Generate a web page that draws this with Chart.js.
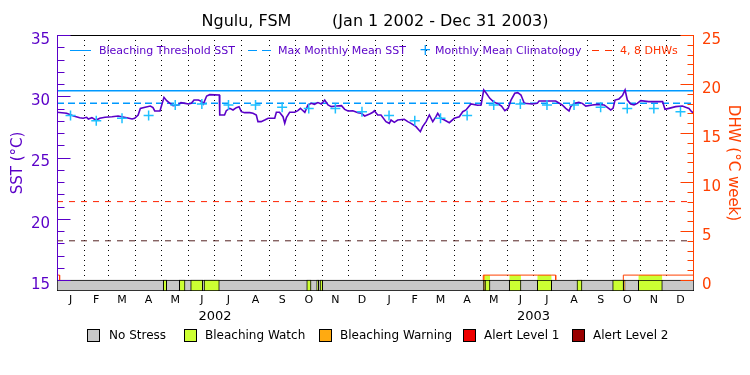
<!DOCTYPE html>
<html>
<head>
<meta charset="utf-8">
<script src="https://cdn.jsdelivr.net/npm/chart.js@4.4.0/dist/chart.umd.min.js"></script>
<style>
  html, body { margin: 0; padding: 0; background: #fff; }
  #wrap { position: relative; width: 750px; height: 375px; font-family: "DejaVu Sans", sans-serif; }
  canvas { position: absolute; left: 0; top: 0; }
  .lg { position: absolute; white-space: nowrap; font-size: 11px; line-height: 12px; color: #5A00C8; }
  .dash { position: absolute; height: 0; }
  .box { position: absolute; top: 329px; width: 11px; height: 11px; border: 1px solid #000; }
  .bt { position: absolute; top: 328px; font-size: 12px; line-height: 14px; color: #000; white-space: nowrap; }
</style>
</head>
<body>
<div id="wrap">
  <canvas id="chart" width="750" height="375"></canvas>

  <!-- legenda dentro do gráfico -->
  <div class="dash" style="left:70px;top:50px;width:21px;border-top:1.5px solid #0099FF"></div>
  <div class="lg" style="left:99px;top:45px">Bleaching Threshold SST</div>
  <div class="dash" style="left:248px;top:50px;width:9px;border-top:1.5px solid #0099FF"></div>
  <div class="dash" style="left:262px;top:50px;width:9px;border-top:1.5px solid #0099FF"></div>
  <div class="lg" style="left:278px;top:45px">Max Monthly Mean SST</div>
  <div class="lg" style="left:419px;top:43px;font-size:15px;line-height:15px;color:#0099FF">+</div>
  <div class="lg" style="left:435px;top:45px">Monthly Mean Climatology</div>
  <div class="dash" style="left:592px;top:50px;width:7px;border-top:1.5px solid #FF3300"></div>
  <div class="dash" style="left:605px;top:50px;width:7px;border-top:1.5px solid #FF3300"></div>
  <div class="lg" style="left:620px;top:45px;color:#FF3300">4, 8 DHWs</div>

  <!-- legenda de estresse -->
  <div class="box" style="left:87px;background:#C8C8C8"></div>
  <div class="bt" style="left:109px">No Stress</div>
  <div class="box" style="left:184px;background:#CCFF33"></div>
  <div class="bt" style="left:205px">Bleaching Watch</div>
  <div class="box" style="left:319px;background:#FFAA11"></div>
  <div class="bt" style="left:340px">Bleaching Warning</div>
  <div class="box" style="left:463px;background:#EE0000"></div>
  <div class="bt" style="left:484px">Alert Level 1</div>
  <div class="box" style="left:572px;background:#990000"></div>
  <div class="bt" style="left:593px">Alert Level 2</div>
</div>

<script>
// Dias desde 1 jan 2002
const monthStarts = [0, 31, 59, 90, 120, 151, 181, 212, 243, 273, 304, 334, 365,
  396, 424, 455, 485, 516, 546, 577, 608, 638, 669, 699, 730];
const monthLetters = ["J", "F", "M", "A", "M", "J", "J", "A", "S", "O", "N", "D"];
const yearTickDays = [181, 546];
const yearLabels = ["2002", "2003"];

const sstTicks = [15, 20, 25, 30, 35];
const dhwTicks = [0, 5, 10, 15, 20, 25];

// SST diária
const sstDays = [0, 11, 19, 26, 30, 34, 36, 40, 43, 45, 49, 55, 63, 70, 74, 80, 86, 89, 93, 95.5,
  101, 107, 110, 112, 118, 120, 122.6, 125.7, 129.5, 133, 139, 142, 147, 150.5, 154, 157, 162, 166, 167.7, 171.5,
  175, 186, 186.5, 192, 194, 198, 201.7, 205.5, 208.6, 211.2, 215, 221, 224.6, 228.4, 230.3, 234, 238, 242, 249.5, 251.4,
  255, 259, 261, 263, 266.6, 272.4, 276, 279, 281, 284, 287.6, 291.5, 295, 299, 303, 306.8, 310.6, 314.4, 320, 326,
  329.7, 333.5, 339, 345, 348.7, 352.6, 358.3, 362, 363.7, 367.5, 371.3, 377, 380.8, 382.8, 386.6, 390.4, 398, 402, 405.7, 411.4,
  416.4, 419, 423, 426.7, 430.6, 434.3, 436.3, 440, 444, 449.6, 455.3, 461, 465, 468.7, 474.4, 482, 486, 489, 492, 496,
  500, 505.6, 509.4, 513.2, 517, 520.3, 524.6, 528, 531.7, 535.5, 544.7, 550.4, 552.4, 571.5, 579, 583, 586.8, 588.7, 592.5, 598,
  602, 606, 613.5, 619.3, 627, 630.7, 634.6, 637.2, 639.5, 644, 648, 651, 653.6, 657.5, 661.2, 665, 669, 678, 694, 696.7,
  701.3, 709, 716.6, 720.4, 724.2, 727.3, 730];
const sstValues = [28.69, 28.61, 28.39, 28.25, 28.20, 28.28, 28.14, 28.25, 28.12, 28.06, 28.20, 28.28, 28.33, 28.39, 28.33, 28.25, 28.14, 28.20, 28.47, 29.01,
  29.10, 29.20, 29.07, 28.80, 28.80, 29.29, 29.91, 29.64, 29.42, 29.23, 29.29, 29.48, 29.42, 29.37, 29.42, 29.69, 29.69, 29.56, 29.37, 30.02,
  30.13, 30.10, 28.47, 28.47, 28.82, 29.01, 28.88, 29.07, 29.15, 28.74, 28.66, 28.66, 28.61, 28.47, 27.93, 27.93, 28.06, 28.20, 28.20, 28.69,
  28.69, 28.33, 27.79, 28.28, 28.69, 28.69, 28.82, 29.01, 28.88, 28.69, 29.29, 29.42, 29.34, 29.48, 29.37, 29.69, 29.29, 29.15, 29.20, 29.23,
  28.93, 28.80, 28.82, 28.66, 28.61, 28.39, 28.55, 28.69, 28.82, 28.47, 28.47, 27.93, 27.79, 28.06, 27.87, 28.06, 28.12, 27.93, 27.79, 27.52,
  27.11, 27.52, 27.93, 28.47, 27.93, 28.33, 28.61, 28.20, 28.06, 27.84, 28.20, 28.33, 28.74, 28.88, 29.37, 29.26, 29.29, 30.51, 30.24, 29.83,
  29.56, 29.37, 29.20, 28.82, 29.01, 29.69, 30.24, 30.29, 30.10, 29.42, 29.37, 29.42, 29.61, 29.61, 29.29, 29.01, 28.80, 29.15, 29.42, 29.51,
  29.42, 29.20, 29.29, 29.34, 29.29, 29.10, 28.88, 29.01, 29.69, 29.78, 30.05, 30.51, 29.69, 29.37, 29.29, 29.42, 29.64, 29.56, 29.56, 28.93,
  29.01, 29.15, 29.20, 29.10, 29.01, 28.74, 28.61];

// Climatologia mensal (jan..dez)
const climatology = [28.43, 28.01, 28.20, 28.43, 29.29, 29.37, 29.29, 29.29, 29.10, 29.01, 29.01, 28.74];
const bleachingThreshold = 30.45;
const maxMonthlyMean = 29.43;
const dhwLevels = [4, 8];

// Degree heating weeks (null = sem valor)
const dhwDays = [0, 3, 3, 3, 488.5, 488.5, 490.5, 496.2, 518.3, 531.7, 550.4, 566.9, 571.5, 571.5, 571.5, 649, 649, 666.2, 693.7, 730];
const dhwValues = [0.5, 0.5, 0, null, 0, 0.5, 0.5, 0.5, 0.5, 0.5, 0.5, 0.5, 0.5, 0, null, 0, 0.5, 0.5, 0.5, 0.5];

// Níveis de estresse (1 = watch, 2 = warning)
const stressStart = [121.8, 140.2, 153.2, 168.5, 286.2, 297.6, 301.4, 488.5, 490.5, 518.3, 550.4, 595.9, 636.8, 649.3, 666.2];
const stressEnd   = [125.7, 146.7, 167.0, 186.0, 291.1, 299.9, 304.5, 490.5, 496.2, 531.7, 566.9, 601.6, 649.3, 651.0, 693.7];
const stressLevel = [1, 1, 1, 1, 1, 1, 1, 2, 1, 1, 1, 1, 1, 2, 1];
const stressColors = ["#C8C8C8", "#CCFF33", "#FFAA11", "#EE0000", "#990000"];

const SST_COLOR = "#5A00C8";
const DHW_COLOR = "#FF4000";
const BLUE = "#0099FF";

const monthMid = monthStarts.slice(0, -1).map((s, i) => (s + monthStarts[i + 1]) / 2);
const STRESS_ROW = 14.55;

function stressFill(day) {
  for (let i = 0; i < stressStart.length; i++) {
    if (day >= stressStart[i] && day <= stressEnd[i]) return stressColors[stressLevel[i]];
  }
  return undefined;
}

// Eixos com ticks para dentro + moldura
const axisDecor = {
  id: "axisDecor",
  afterDraw(chart) {
    const { ctx, chartArea: a, scales } = chart;
    const y = scales.y, yR = scales.yR;
    ctx.save();
    ctx.lineWidth = 1;
    ctx.strokeStyle = "#000";
    ctx.beginPath();
    ctx.moveTo(a.left, Math.round(a.top) + 0.5);
    ctx.lineTo(a.right, Math.round(a.top) + 0.5);
    ctx.stroke();

    const xl = Math.round(a.left) + 0.5;
    ctx.strokeStyle = SST_COLOR;
    ctx.beginPath();
    ctx.moveTo(xl, y.getPixelForValue(35));
    ctx.lineTo(xl, y.getPixelForValue(15));
    for (let v = 15; v <= 35; v++) {
      const py = Math.round(y.getPixelForValue(v)) + 0.5;
      ctx.moveTo(xl, py);
      ctx.lineTo(xl + (v % 5 === 0 ? 13 : 7), py);
    }
    ctx.stroke();

    const xr = Math.round(a.right) - 0.5;
    ctx.strokeStyle = DHW_COLOR;
    ctx.beginPath();
    ctx.moveTo(xr, yR.getPixelForValue(25));
    ctx.lineTo(xr, yR.getPixelForValue(0));
    for (let v = 0; v <= 25; v++) {
      const py = Math.round(yR.getPixelForValue(v)) + 0.5;
      ctx.moveTo(xr, py);
      ctx.lineTo(xr - (v % 5 === 0 ? 13 : 6), py);
    }
    ctx.stroke();
    ctx.restore();
  }
};

const flat = (v) => [{ x: 0, y: v }, { x: 730, y: v }];

new Chart(document.getElementById("chart"), {
  type: "line",
  data: {
    datasets: [
      {
        label: "Monthly Mean Climatology",
        data: monthMid.map((d, i) => ({ x: d, y: climatology[i % 12] })),
        showLine: false,
        pointStyle: "cross",
        pointRadius: 5,
        pointBorderWidth: 1.5,
        borderColor: "#1EC0FF",
        yAxisID: "y"
      },
      {
        label: "SST",
        data: sstDays.map((d, i) => ({ x: d, y: sstValues[i] })),
        borderColor: SST_COLOR,
        borderWidth: 1.6,
        pointRadius: 0,
        yAxisID: "y"
      },
      {
        label: "DHW",
        data: dhwDays.map((d, i) => ({ x: d, y: dhwValues[i] })),
        borderColor: DHW_COLOR,
        borderWidth: 1,
        pointRadius: 0,
        spanGaps: false,
        fill: "origin",
        backgroundColor: "rgba(0,0,0,0)",
        segment: {
          backgroundColor: ctx => stressFill((ctx.p0.parsed.x + ctx.p1.parsed.x) / 2)
        },
        yAxisID: "yR"
      },
      {
        label: "Bleaching Threshold SST",
        data: flat(bleachingThreshold),
        borderColor: BLUE,
        borderWidth: 1.5,
        pointRadius: 0,
        yAxisID: "y"
      },
      {
        label: "Max Monthly Mean SST",
        data: flat(maxMonthlyMean),
        borderColor: BLUE,
        borderWidth: 1.5,
        borderDash: [7, 4],
        pointRadius: 0,
        yAxisID: "y"
      },
      {
        label: "8 DHW",
        data: flat(dhwLevels[1]),
        borderColor: "#FF2200",
        borderWidth: 1,
        borderDash: [6, 6],
        pointRadius: 0,
        yAxisID: "yR"
      },
      {
        label: "4 DHW",
        data: flat(dhwLevels[0]),
        borderColor: "#552222",
        borderWidth: 1,
        borderDash: [6, 6],
        pointRadius: 0,
        yAxisID: "yR"
      },
      {
        type: "bar",
        label: "Stress",
        indexAxis: "y",
        data: [{ x: [0, 730], y: STRESS_ROW }].concat(
          stressStart.map((s, i) => ({ x: [s, stressEnd[i]], y: STRESS_ROW }))),
        backgroundColor: [stressColors[0]].concat(stressLevel.map(l => stressColors[l])),
        borderColor: "#000",
        borderWidth: 1,
        borderSkipped: false,
        barThickness: 11,
        xAxisID: "x",
        yAxisID: "y"
      }
    ]
  },
  options: {
    responsive: false,
    animation: false,
    events: [],
    layout: { padding: 0 },
    plugins: {
      legend: { display: false },
      tooltip: { enabled: false },
      title: {
        display: true,
        text: "Ngulu, FSM        (Jan 1 2002 - Dec 31 2003)",
        color: "#000",
        font: { family: "DejaVu Sans", size: 16, weight: "normal", lineHeight: 1.25 },
        padding: { top: 12, bottom: 3 }
      }
    },
    scales: {
      x: {
        type: "linear",
        position: "bottom",
        weight: 0,
        min: 0,
        max: 730,
        offset: false,
        grid: { display: false, drawTicks: false },
        border: { display: false },
        afterBuildTicks: s => { s.ticks = monthMid.map(v => ({ value: v })); },
        afterFit: s => { s.height = 16; },
        ticks: {
          autoSkip: false,
          maxRotation: 0,
          padding: 3,
          color: "#000",
          font: { family: "DejaVu Sans", size: 11 },
          callback: (v, i) => monthLetters[i % 12]
        }
      },
      xg: {
        type: "linear",
        position: "bottom",
        weight: 1,
        min: 0,
        max: 730,
        afterBuildTicks: s => { s.ticks = monthStarts.slice(1, -1).map(v => ({ value: v })); },
        afterFit: s => { s.height = 0; },
        grid: { color: "#000", lineWidth: 1, drawTicks: false },
        border: { display: false, dash: [1, 4] },
        ticks: { display: false }
      },
      x2: {
        type: "linear",
        position: "bottom",
        weight: 2,
        min: 0,
        max: 730,
        grid: { display: false, drawTicks: false },
        border: { display: false },
        afterBuildTicks: s => { s.ticks = yearTickDays.map(v => ({ value: v })); },
        afterFit: s => { s.height = 68; },
        ticks: {
          autoSkip: false,
          maxRotation: 0,
          padding: 2,
          color: "#000",
          font: { family: "DejaVu Sans", size: 13 },
          callback: (v, i) => yearLabels[i]
        }
      },
      y: {
        type: "linear",
        position: "left",
        min: 15 - 11 / 12.25,
        max: 35,
        offset: false,
        grid: { display: false, drawTicks: false, offset: false },
        border: { display: false },
        afterBuildTicks: s => { s.ticks = sstTicks.map(v => ({ value: v })); },
        afterFit: s => { s.width = 57; },
        ticks: {
          padding: 7,
          labelOffset: 5,
          color: SST_COLOR,
          font: { family: "DejaVu Sans", size: 15 }
        },
        title: {
          display: true,
          text: "SST (°C)",
          color: SST_COLOR,
          font: { family: "DejaVu Sans", size: 15 },
          padding: { top: 9, bottom: 0 }
        }
      },
      yR: {
        type: "linear",
        position: "right",
        min: -11 / 9.8,
        max: 25,
        offset: false,
        grid: { display: false, drawTicks: false },
        border: { display: false },
        afterBuildTicks: s => { s.ticks = dhwTicks.map(v => ({ value: v })); },
        afterFit: s => { s.width = 56; },
        ticks: {
          padding: 8,
          labelOffset: 5,
          color: DHW_COLOR,
          font: { family: "DejaVu Sans", size: 15 }
        },
        title: {
          display: true,
          text: "DHW (°C week)",
          color: DHW_COLOR,
          font: { family: "DejaVu Sans", size: 15 },
          padding: { top: 8, bottom: 0 }
        }
      }
    }
  },
  plugins: [axisDecor]
});
</script>
</body>
</html>
